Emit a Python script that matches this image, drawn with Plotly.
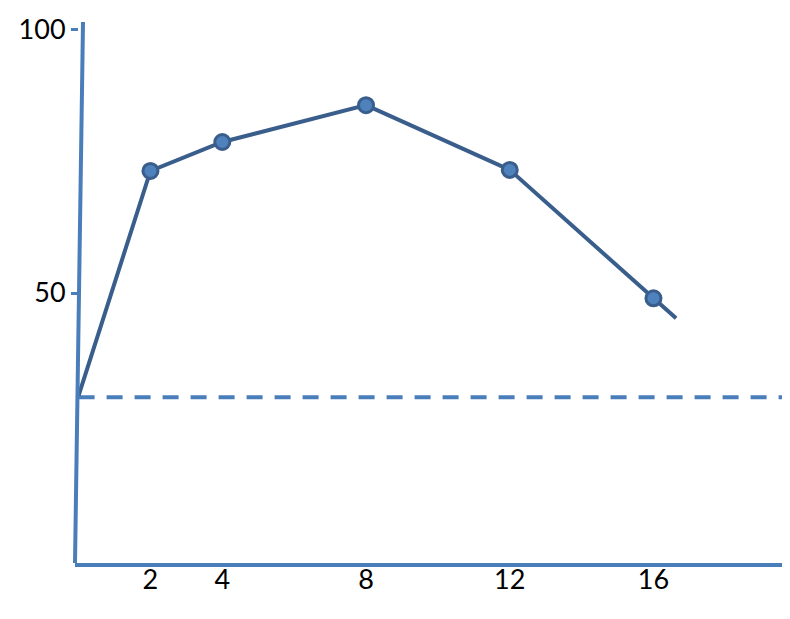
import plotly.graph_objects as go

# Data
line_x = [0, 2, 4, 8, 12, 16, 16.63]
line_y = [30.5, 73.2, 78.7, 85.7, 73.4, 49.0, 45.2]
marker_x = [2, 4, 8, 12, 16]
marker_y = [73.2, 78.7, 85.7, 73.4, 49.0]
baseline_x = [0, 19.8]
baseline_y = [30.2, 30.2]
x_ticks = [2, 4, 8, 12, 16]
y_ticks = [50, 100]

AXIS_COLOR = "#4a7ebb"
LINE_COLOR = "#3a5e8c"
MARKER_FILL = "#4f81bd"

fig = go.Figure()
fig.add_trace(go.Scatter(x=baseline_x, y=baseline_y, mode="lines",
                         line=dict(color=AXIS_COLOR, width=4, dash="16px,12px"),
                         hoverinfo="skip", showlegend=False, cliponaxis=False))
fig.add_trace(go.Scatter(x=line_x, y=line_y, mode="lines",
                         line=dict(color=LINE_COLOR, width=4),
                         showlegend=False, cliponaxis=False))
fig.add_trace(go.Scatter(x=marker_x, y=marker_y, mode="markers",
                         marker=dict(size=15, color=MARKER_FILL,
                                     line=dict(color=LINE_COLOR, width=3)),
                         showlegend=False, cliponaxis=False))

# slightly slanted y axis line (decoration)
fig.add_shape(type="line", xref="paper", yref="paper",
              x0=0.0112, y0=1, x1=0.0, y1=0,
              line=dict(color=AXIS_COLOR, width=4))

fig.update_layout(
    width=782, height=611,
    margin=dict(l=67, r=0, t=14, b=56, autoexpand=False),
    paper_bgcolor="white", plot_bgcolor="white",
    font=dict(family="Lato", size=27, color="black"),
    xaxis=dict(range=[-0.1, 19.8], tickvals=x_ticks, ticks="",
               showgrid=False, zeroline=False, showline=True,
               linecolor=AXIS_COLOR, linewidth=4, fixedrange=True,
               ticklabelstandoff=-10),
    yaxis=dict(range=[-1.3, 101.5], tickvals=y_ticks, ticks="outside",
               ticklen=7, tickwidth=3, tickcolor=AXIS_COLOR,
               anchor="free", position=0.0042,
               showgrid=False, zeroline=False, showline=False,
               fixedrange=True, ticklabelstandoff=0),
)

fig.write_html("out.html")
